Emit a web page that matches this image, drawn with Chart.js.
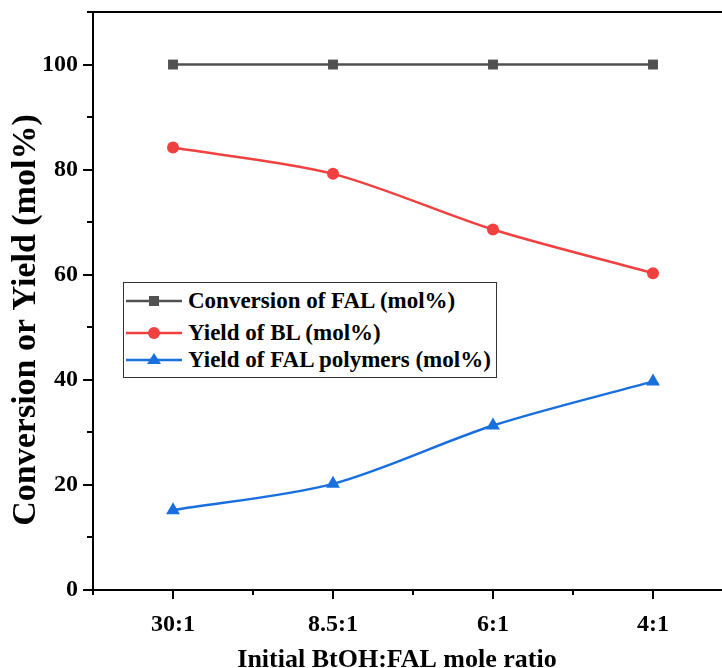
<!DOCTYPE html>
<html>
<head>
<meta charset="utf-8">
<script src="https://cdn.jsdelivr.net/npm/chart.js@4"></script>
<style>
  html, body { margin: 0; padding: 0; background: #fff; overflow: hidden; }
  #wrap { position: relative; width: 722px; height: 668px; overflow: hidden; }
  #legend {
    position: absolute; left: 123px; top: 282px; width: 372px; height: 94px;
    border: 1px solid #333; background: #fff;
    font-family: "Liberation Serif", "Times New Roman", serif; font-weight: bold; font-size: 23px;
  }
  #legend .row { position: absolute; left: 2px; height: 30px; display: flex; align-items: center; }
  #legend svg { width: 56px; height: 30px; margin-right: 6px; }
</style>
</head>
<body>
<div id="wrap">
  <canvas id="grafico" width="760" height="668"></canvas>
  <div id="legend"></div>
</div>
<script>
// Dados
const razoes = ['30:1', '8.5:1', '6:1', '4:1'];
const conversaoFAL = [100, 100, 100, 100];
const rendimentoBL = [84.2, 79.2, 68.6, 60.3];
const rendimentoPolimeros = [15.2, 20.2, 31.3, 39.7];
const rotulosSeries = ['Conversion of FAL (mol%)', 'Yield of BL (mol%)', 'Yield of FAL polymers (mol%)'];
const ticksY = [0, 20, 40, 60, 80, 100];

const cores = ['#515151', '#f14040', '#1a6fdf'];
const estilos = ['rect', 'circle', 'triangle'];
const raios = [7, 6, 8];
const fonte = '"Liberation Serif", "Times New Roman", serif';

// Ticks maiores/menores, borda superior e títulos dos eixos
const eixosPlugin = {
    id: 'eixosPlugin',
    afterDraw(chart) {
        const { ctx, chartArea: a, scales: { x, y } } = chart;
        ctx.save();
        ctx.strokeStyle = '#000';
        ctx.lineWidth = 2;
        ctx.beginPath();
        ctx.moveTo(a.left - 1, a.top);
        ctx.lineTo(a.right, a.top);
        for (let v = 0; v <= 110; v += 10) {
            const py = Math.round(y.getPixelForValue(v));
            const len = ticksY.includes(v) ? 10 : 6;
            ctx.moveTo(a.left, py);
            ctx.lineTo(a.left - len, py);
        }
        for (let i = -0.5; i <= razoes.length - 0.5; i += 0.5) {
            const px = Math.round(x.getPixelForValue(i));
            const len = Number.isInteger(i) ? 9 : 5;
            ctx.moveTo(px, a.bottom);
            ctx.lineTo(px, a.bottom + len);
        }
        ctx.stroke();

        ctx.fillStyle = '#000';
        ctx.textAlign = 'center';
        ctx.textBaseline = 'middle';
        ctx.font = 'bold 26px ' + fonte;
        ctx.fillText('Initial BtOH:FAL mole ratio', 397, 660);
        ctx.translate(26, 320);
        ctx.rotate(-Math.PI / 2);
        ctx.font = 'bold 34px ' + fonte;
        ctx.fillText('Conversion or Yield (mol%)', 0, 0);
        ctx.restore();
    }
};

const dadosSeries = [conversaoFAL, rendimentoBL, rendimentoPolimeros];

const ctx = document.getElementById('grafico').getContext('2d');
const grafico = new Chart(ctx, {
    type: 'line',
    data: {
        labels: razoes,
        datasets: dadosSeries.map((d, i) => ({
            label: rotulosSeries[i],
            data: d,
            borderColor: cores[i],
            backgroundColor: cores[i],
            borderWidth: 2.5,
            pointStyle: estilos[i],
            pointRadius: raios[i],
            pointBorderWidth: 0,
            tension: i === 0 ? 0 : 0.3,
            fill: false
        }))
    },
    options: {
        responsive: false,
        animation: false,
        layout: { padding: { left: 0, top: 12, right: 27, bottom: 0 } },
        plugins: {
            legend: { display: false },
            tooltip: { enabled: false }
        },
        scales: {
            x: {
                offset: true,
                grid: { display: false, drawTicks: false },
                border: { display: true, color: '#000', width: 2 },
                ticks: {
                    color: '#000',
                    padding: 20,
                    font: { family: fonte, weight: 'bold', size: 24 }
                },
                afterFit: (s) => { s.height = 78; s.paddingLeft = 0; s.paddingRight = 0; }
            },
            y: {
                min: 0,
                max: 110,
                grid: { display: false, drawTicks: false },
                border: { display: true, color: '#000', width: 2 },
                afterBuildTicks: (s) => { s.ticks = ticksY.map(v => ({ value: v })); },
                ticks: {
                    color: '#000',
                    padding: 15,
                    font: { family: fonte, weight: 'bold', size: 24 }
                },
                afterFit: (s) => { s.width = 93; s.paddingTop = 0; s.paddingBottom = 0; }
            }
        }
    },
    plugins: [eixosPlugin]
});

// Legenda em HTML posicionada dentro da área do gráfico
function simbolo(i) {
    const c = cores[i];
    let m;
    if (estilos[i] === 'rect') m = `<rect x="23" y="10" width="10" height="10" fill="${c}"/>`;
    else if (estilos[i] === 'circle') m = `<circle cx="28" cy="15" r="6" fill="${c}"/>`;
    else m = `<polygon points="28,8 35,19 21,19" fill="${c}"/>`;
    return `<svg viewBox="0 0 56 30"><line x1="0" y1="15" x2="56" y2="15" stroke="${c}" stroke-width="2.5"/>${m}</svg>`;
}
const legenda = document.getElementById('legend');
const topos = [3, 35, 62];
rotulosSeries.forEach((t, i) => {
    const row = document.createElement('div');
    row.className = 'row';
    row.style.top = topos[i] + 'px';
    row.innerHTML = simbolo(i) + `<span>${t}</span>`;
    legenda.appendChild(row);
});
</script>
</body>
</html>
